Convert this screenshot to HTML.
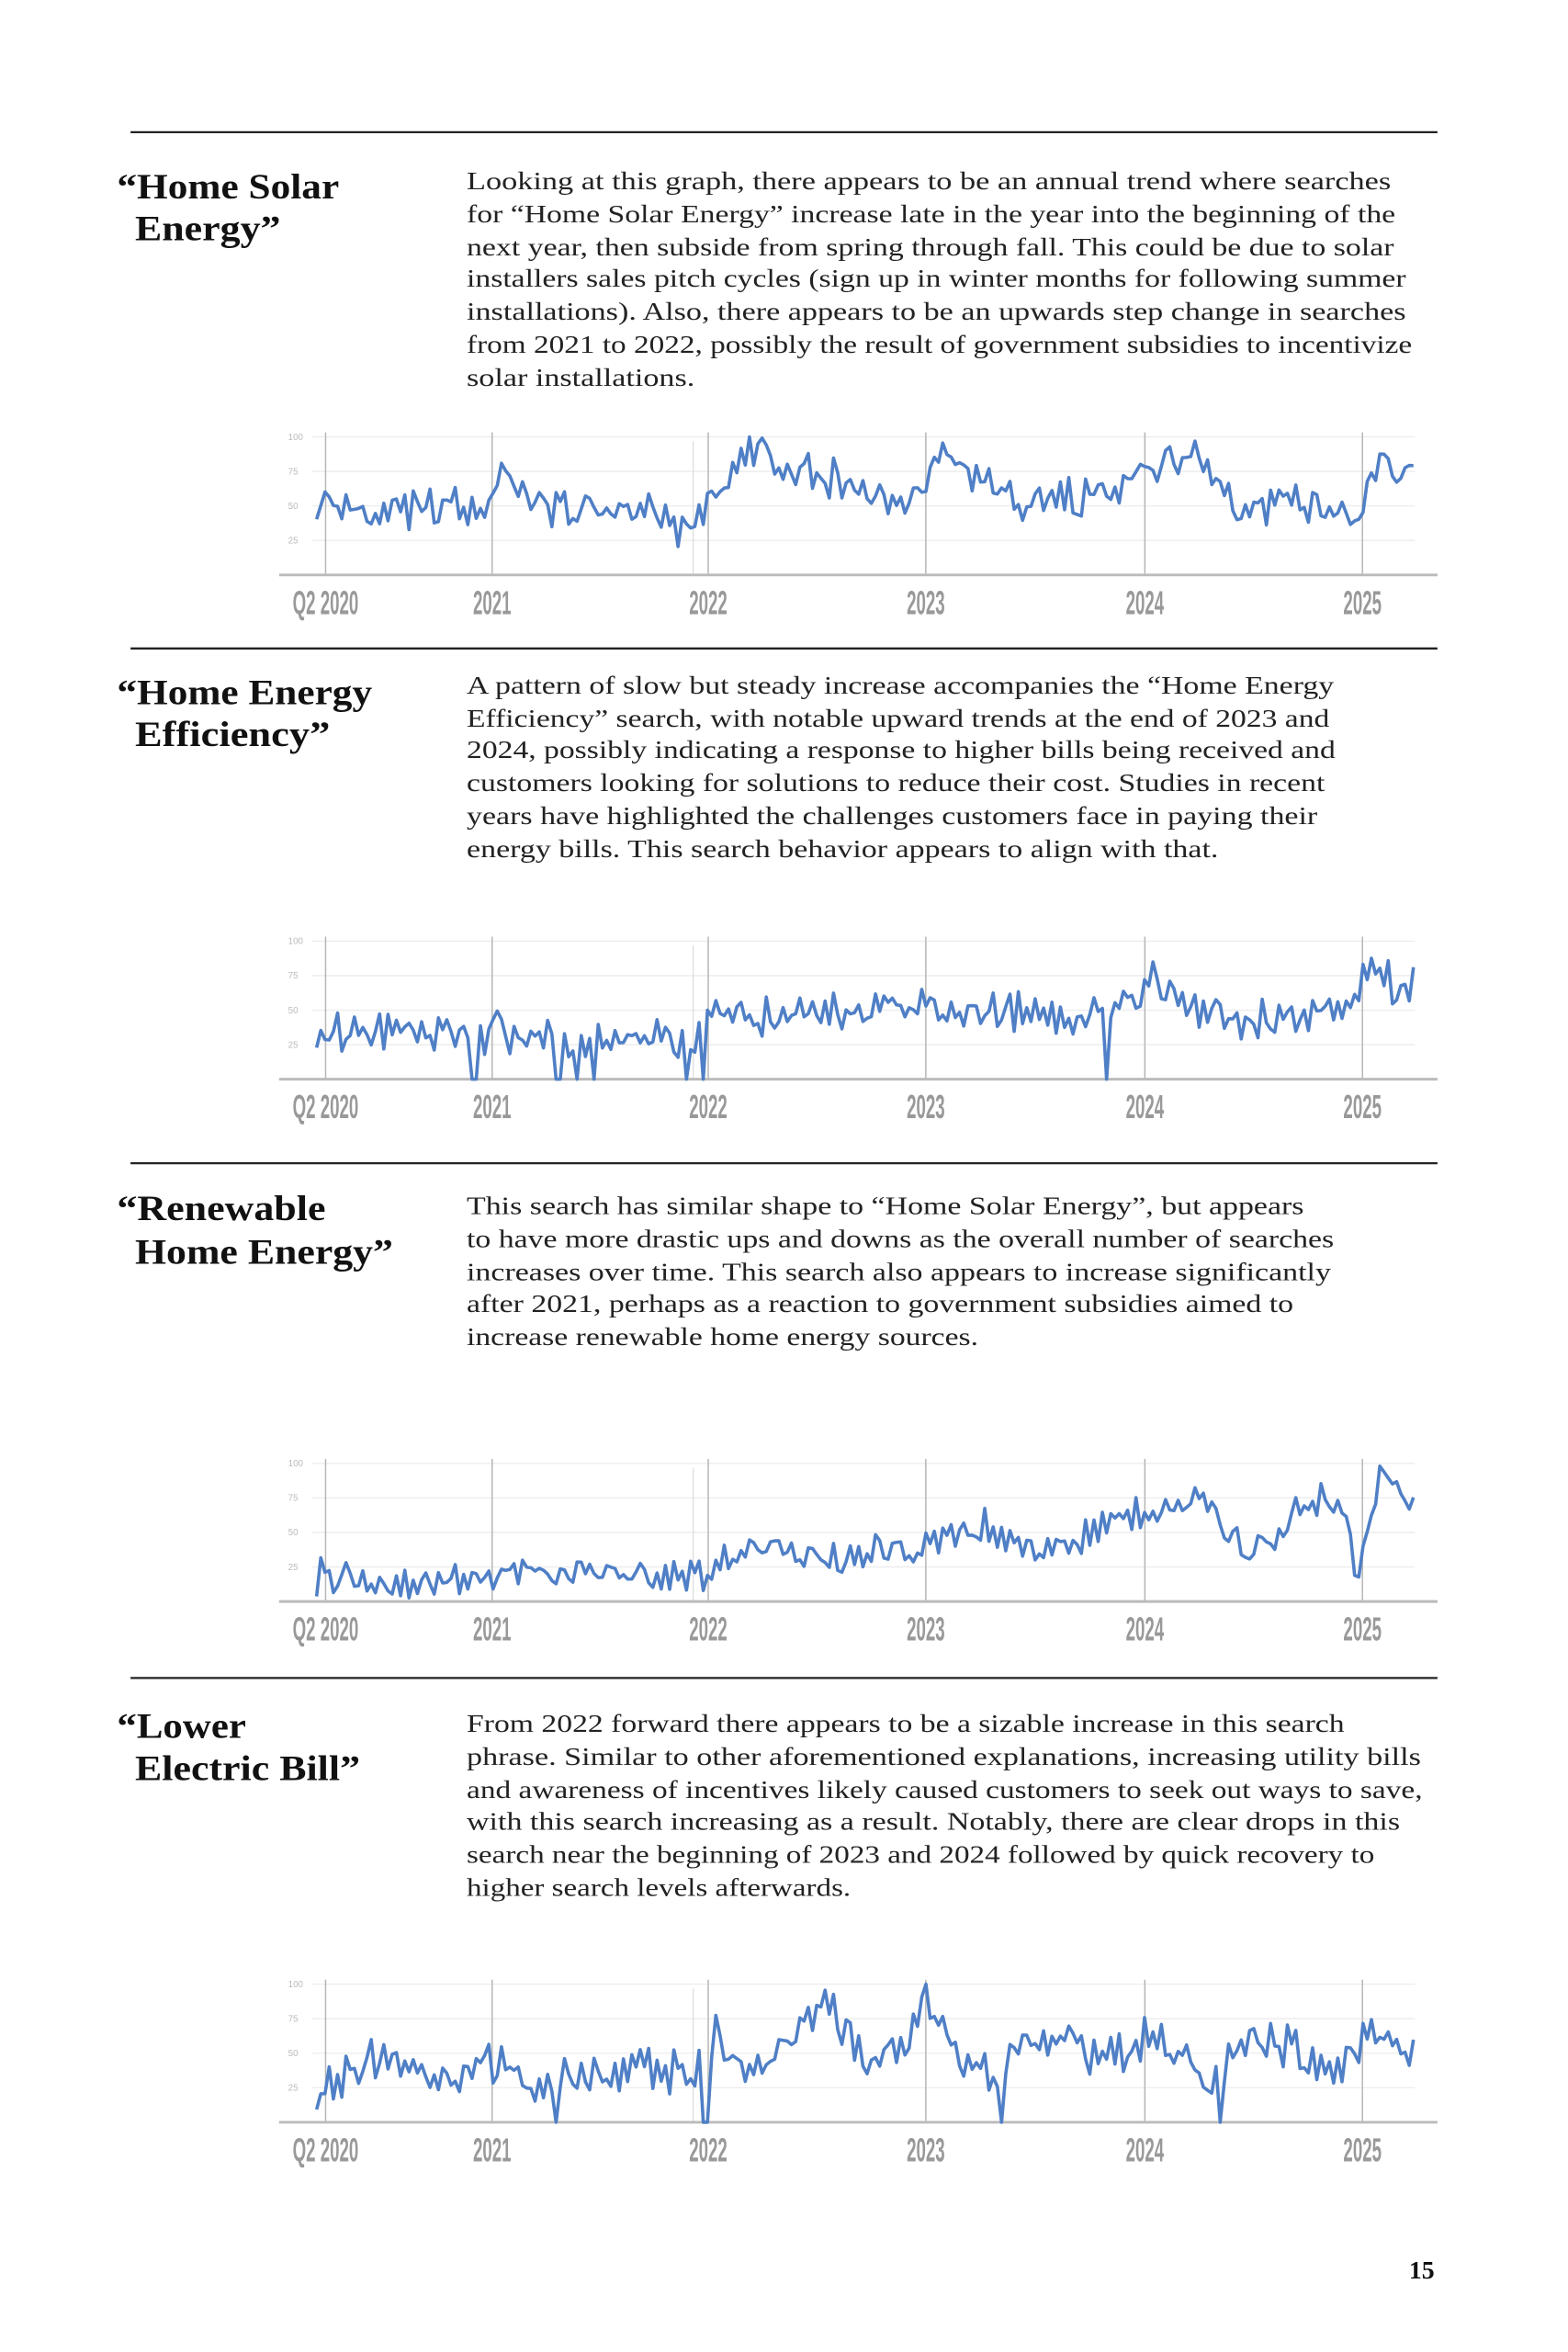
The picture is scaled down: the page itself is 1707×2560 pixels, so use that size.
<!DOCTYPE html>
<html><head><meta charset="utf-8"><style>
html,body{margin:0;padding:0;background:#fff}
svg{display:block}
.t{font-family:"Liberation Serif",serif;font-weight:bold;font-size:24px;fill:#111}
.p{font-family:"Liberation Serif",serif;font-size:17px;fill:#222}
.yl{font-family:"Liberation Sans",sans-serif;font-size:6px;fill:#bbb}
.xl{font-family:"Liberation Sans",sans-serif;font-weight:bold;font-size:22px;fill:#999}
</style></head><body>
<svg id="s" width="1707" height="2560" viewBox="0 0 1045 1567" xmlns="http://www.w3.org/2000/svg">
<g stroke="#222" stroke-width="1.4">
<line x1="87" y1="88" x2="958" y2="88"/><line x1="87" y1="432" x2="958" y2="432"/>
<line x1="87" y1="775" x2="958" y2="775"/><line x1="87" y1="1118" x2="958" y2="1118"/>
</g>
<text class="t" x="78" y="132" textLength="148" lengthAdjust="spacingAndGlyphs">“Home Solar</text>
<text class="t" x="90" y="160" textLength="97" lengthAdjust="spacingAndGlyphs">Energy”</text>
<text class="t" x="78" y="469" textLength="170" lengthAdjust="spacingAndGlyphs">“Home Energy</text>
<text class="t" x="90" y="497" textLength="130" lengthAdjust="spacingAndGlyphs">Efficiency”</text>
<text class="t" x="78" y="813" textLength="139" lengthAdjust="spacingAndGlyphs">“Renewable</text>
<text class="t" x="90" y="842" textLength="172" lengthAdjust="spacingAndGlyphs">Home Energy”</text>
<text class="t" x="78" y="1158" textLength="86" lengthAdjust="spacingAndGlyphs">“Lower</text>
<text class="t" x="90" y="1186" textLength="150" lengthAdjust="spacingAndGlyphs">Electric Bill”</text>

<g class="p">
<text x="311" y="126" textLength="616" lengthAdjust="spacingAndGlyphs">Looking at this graph, there appears to be an annual trend where searches</text>
<text x="311" y="148" textLength="619" lengthAdjust="spacingAndGlyphs">for “Home Solar Energy” increase late in the year into the beginning of the</text>
<text x="311" y="170" textLength="618" lengthAdjust="spacingAndGlyphs">next year, then subside from spring through fall. This could be due to solar</text>
<text x="311" y="191" textLength="626" lengthAdjust="spacingAndGlyphs">installers sales pitch cycles (sign up in winter months for following summer</text>
<text x="311" y="213" textLength="626" lengthAdjust="spacingAndGlyphs">installations). Also, there appears to be an upwards step change in searches</text>
<text x="311" y="235" textLength="630" lengthAdjust="spacingAndGlyphs">from 2021 to 2022, possibly the result of government subsidies to incentivize</text>
<text x="311" y="257" textLength="152" lengthAdjust="spacingAndGlyphs">solar installations.</text>

<text x="311" y="462" textLength="578" lengthAdjust="spacingAndGlyphs">A pattern of slow but steady increase accompanies the “Home Energy</text>
<text x="311" y="484" textLength="575" lengthAdjust="spacingAndGlyphs">Efficiency” search, with notable upward trends at the end of 2023 and</text>
<text x="311" y="505" textLength="579" lengthAdjust="spacingAndGlyphs">2024, possibly indicating a response to higher bills being received and</text>
<text x="311" y="527" textLength="572" lengthAdjust="spacingAndGlyphs">customers looking for solutions to reduce their cost. Studies in recent</text>
<text x="311" y="549" textLength="567" lengthAdjust="spacingAndGlyphs">years have highlighted the challenges customers face in paying their</text>
<text x="311" y="571" textLength="501" lengthAdjust="spacingAndGlyphs">energy bills. This search behavior appears to align with that.</text>

<text x="311" y="809" textLength="558" lengthAdjust="spacingAndGlyphs">This search has similar shape to “Home Solar Energy”, but appears</text>
<text x="311" y="831" textLength="578" lengthAdjust="spacingAndGlyphs">to have more drastic ups and downs as the overall number of searches</text>
<text x="311" y="853" textLength="576" lengthAdjust="spacingAndGlyphs">increases over time. This search also appears to increase significantly</text>
<text x="311" y="874" textLength="551" lengthAdjust="spacingAndGlyphs">after 2021, perhaps as a reaction to government subsidies aimed to</text>
<text x="311" y="896" textLength="341" lengthAdjust="spacingAndGlyphs">increase renewable home energy sources.</text>

<text x="311" y="1154" textLength="585" lengthAdjust="spacingAndGlyphs">From 2022 forward there appears to be a sizable increase in this search</text>
<text x="311" y="1176" textLength="636" lengthAdjust="spacingAndGlyphs">phrase. Similar to other aforementioned explanations, increasing utility bills</text>
<text x="311" y="1198" textLength="637" lengthAdjust="spacingAndGlyphs">and awareness of incentives likely caused customers to seek out ways to save,</text>
<text x="311" y="1219" textLength="622" lengthAdjust="spacingAndGlyphs">with this search increasing as a result. Notably, there are clear drops in this</text>
<text x="311" y="1241" textLength="605" lengthAdjust="spacingAndGlyphs">search near the beginning of 2023 and 2024 followed by quick recovery to</text>
<text x="311" y="1263" textLength="256" lengthAdjust="spacingAndGlyphs">higher search levels afterwards.</text>
</g>
<text x="939" y="1518" font-family="Liberation Serif,serif" font-weight="bold" font-size="17" fill="#111">15</text>
<g id="charts"></g>
</svg>
<script>
(function(){
var NS="http://www.w3.org/2000/svg",g=document.getElementById("charts");
function el(n,a,t){var e=document.createElementNS(NS,n);for(var k in a)e.setAttribute(k,a[k]);if(t)e.textContent=t;g.appendChild(e);return e;}
var seed=7;function rnd(){seed=(seed*16807)%2147483647;return seed/2147483647;}
var years=[217,328,472,617,763,908],labels=["Q2 2020","2021","2022","2023","2024","2025"];
function chart(top,kp,amp,drops,sd){
 seed=sd;var axis=top+92;
 [100,75,50,25].forEach(function(v,i){var y=top+i*23;el("line",{x1:208,y1:y,x2:943,y2:y,stroke:"#ececec","stroke-width":0.8});el("text",{x:192,y:y+2,"class":"yl"},String(v));});
 years.forEach(function(x){el("line",{x1:x,y1:top-3,x2:x,y2:axis,stroke:"#b5b5b5","stroke-width":0.9});});
 el("line",{x1:462,y1:top+3,x2:462,y2:axis,stroke:"#ddd","stroke-width":0.8});
 el("line",{x1:186,y1:axis,x2:958,y2:axis,stroke:"#bbb","stroke-width":1.8});
 years.forEach(function(x,i){el("text",{x:x,y:axis+26,"class":"xl","text-anchor":"middle",transform:"translate("+x+",0) scale(0.52,1) translate("+(-x)+",0)"},labels[i]);});
 var pts=[],n=262,prev=0;
 for(var i=0;i<n;i++){var x=211+i*(942-211)/(n-1);
  var j=0;while(j<kp.length-2&&kp[j+1][0]<x)j++;
  var a=kp[j],b=kp[j+1],f=(x-a[0])/(b[0]-a[0]);f=Math.max(0,Math.min(1,f));
  var r=(rnd()*2-1);var nz=(i%2?1:-1)*amp*0.5*rnd()+r*amp;
  var v=a[1]+(b[1]-a[1])*f+nz;
  drops.forEach(function(d){if(Math.abs(x-d)<1.5)v=0;});
  v=Math.max(0,Math.min(100,v));
  pts.push(x.toFixed(1)+","+(axis-v*0.92).toFixed(1));}
 el("polyline",{points:pts.join(" "),fill:"none",stroke:"#4f7fc6","stroke-width":2.2,"stroke-linejoin":"round"});
}
chart(291,[[211,55],[260,45],[320,48],[335,75],[350,50],[400,48],[440,45],[462,30],[472,55],[490,75],[505,95],[520,75],[560,68],[600,52],[617,65],[625,90],[640,78],[680,55],[740,55],[765,78],[800,85],[825,45],[870,55],[905,40],[920,92],[932,75],[942,75]],12,[],11);
chart(627,[[211,35],[300,32],[330,35],[400,25],[460,30],[475,45],[520,45],[560,48],[600,45],[617,60],[650,50],[700,45],[740,45],[765,70],[790,55],[830,40],[880,45],[905,60],[915,97],[928,65],[942,72]],12,[316,372,384,396,458,468,737],23);
chart(975,[[211,18],[260,12],[300,18],[330,18],[380,20],[440,20],[462,15],[480,30],[515,42],[550,28],[580,35],[610,40],[640,50],[660,55],[690,35],[720,45],[750,65],[765,60],[790,75],[810,65],[830,35],[850,50],[870,75],[895,70],[905,15],[920,95],[935,70],[942,72]],10,[],37);
chart(1322,[[211,30],[260,50],[290,30],[330,45],[360,25],[420,40],[462,30],[475,60],[500,40],[530,60],[552,85],[575,45],[605,60],[617,90],[635,50],[665,35],[680,55],[700,65],[740,45],[765,60],[790,45],[805,25],[825,60],[860,55],[880,35],[910,60],[925,60],[942,45]],14,[370,470,668,812],53);
})();
</script>
</body></html>
